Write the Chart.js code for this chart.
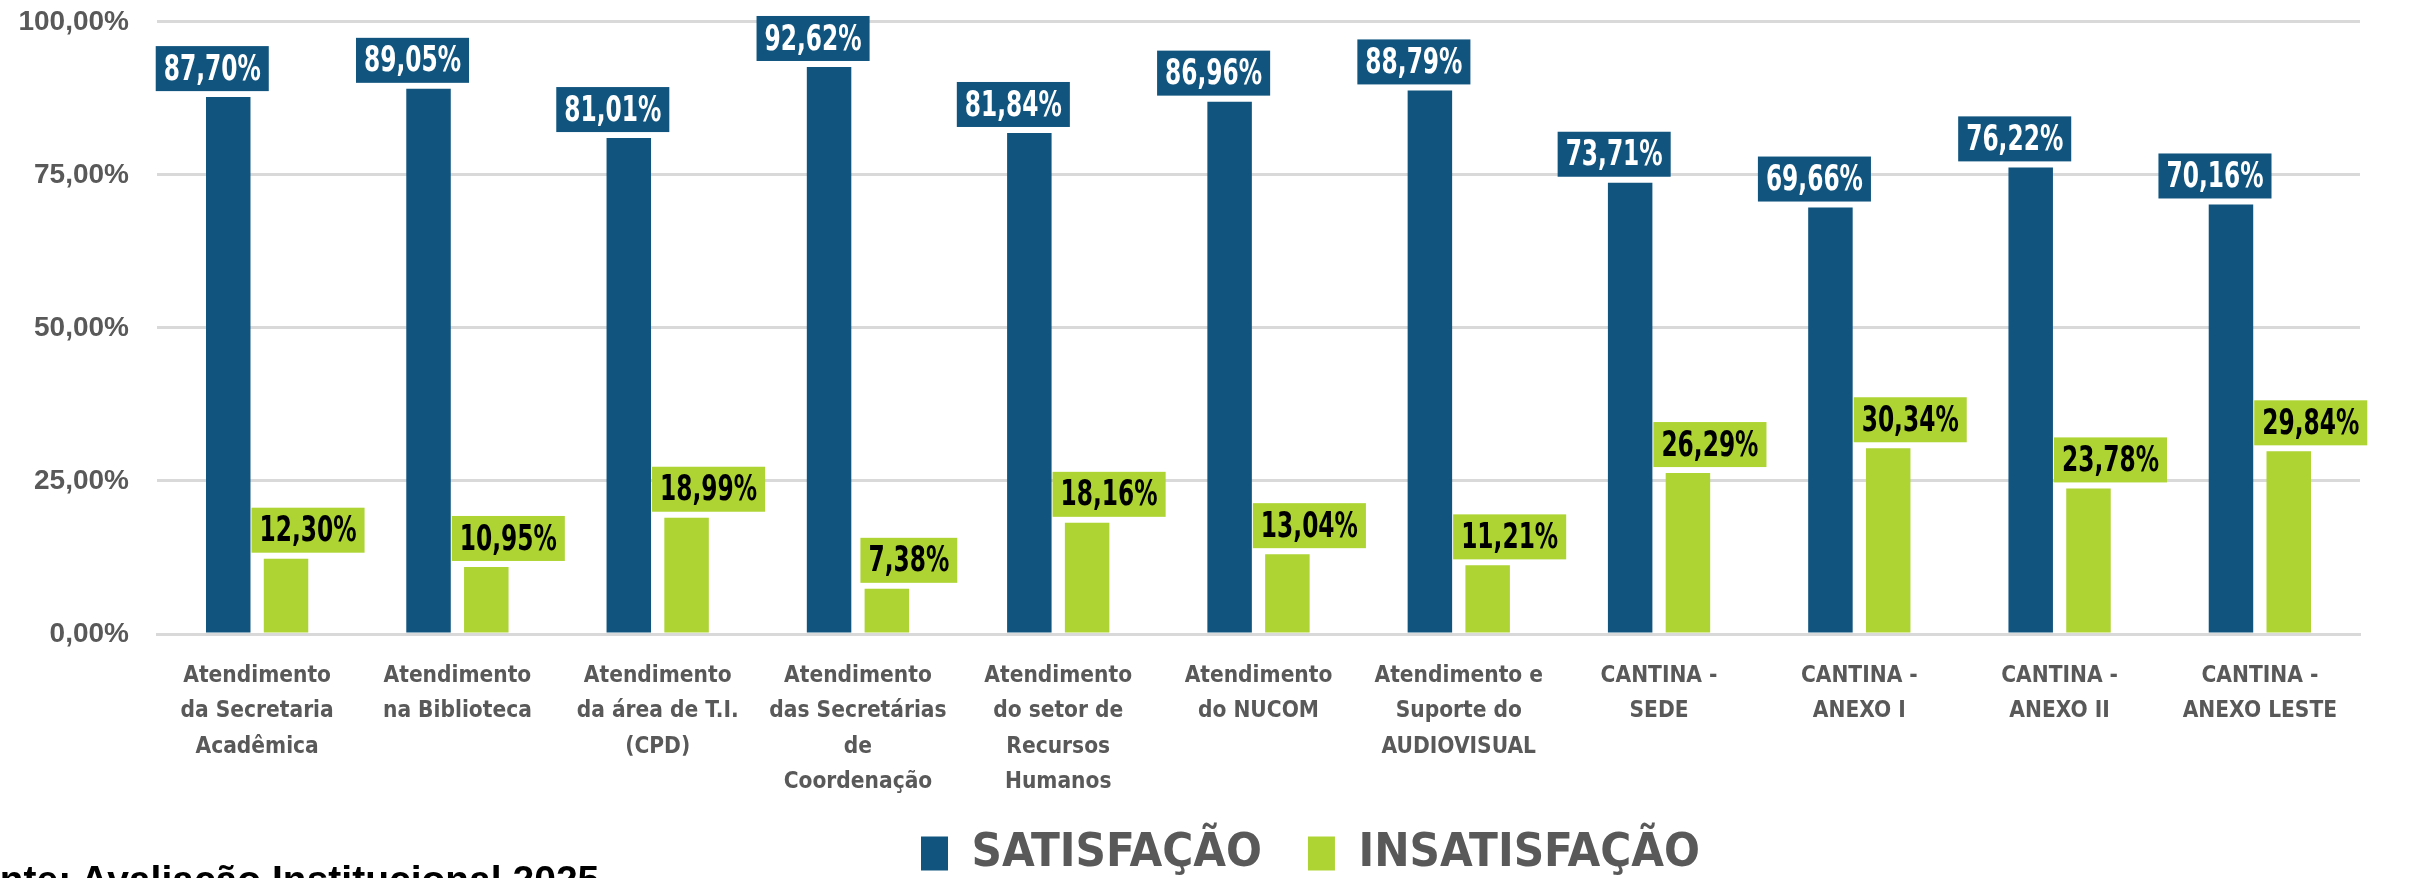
<!doctype html>
<html lang="pt-BR">
<head>
<meta charset="utf-8" />
<title>Satisfação por setor</title>
<script src="https://cdn.jsdelivr.net/npm/chart.js"></script>
<style>
  html, body { margin: 0; padding: 0; background: #fff; overflow: hidden; }
  .page { position: relative; width: 2414px; height: 878px; overflow: hidden; }
  .chart-box { position: absolute; left: 0; top: -23px; width: 2414px; height: 940px; }
  .fonte { position: absolute; left: -48px; top: 860px; font: bold 39px/39px "Liberation Sans", Arial, sans-serif; color: #000; white-space: nowrap; }
</style>
</head>
<body>
<div class="page">
  <div class="chart-box"><canvas id="chart"></canvas></div>
  <div class="fonte">Fonte: Avaliação Institucional 2025</div>
</div>
<script>
const categories = [
  ['Atendimento', 'da Secretaria', 'Acadêmica'],
  ['Atendimento', 'na Biblioteca'],
  ['Atendimento', 'da área de T.I.', '(CPD)'],
  ['Atendimento', 'das Secretárias', 'de', 'Coordenação'],
  ['Atendimento', 'do setor de', 'Recursos', 'Humanos'],
  ['Atendimento', 'do NUCOM'],
  ['Atendimento e', 'Suporte do', 'AUDIOVISUAL'],
  ['CANTINA -', 'SEDE'],
  ['CANTINA -', 'ANEXO I'],
  ['CANTINA -', 'ANEXO II'],
  ['CANTINA -', 'ANEXO LESTE'],
];
const satisfacao = [87.70, 89.05, 81.01, 92.62, 81.84, 86.96, 88.79, 73.71, 69.66, 76.22, 70.16];
const insatisfacao = [12.30, 10.95, 18.99, 7.38, 18.16, 13.04, 11.21, 26.29, 30.34, 23.78, 29.84];
const yTicks = [0, 25, 50, 75, 100];

const BLUE = '#11557f';
const GREEN = '#add433';
const GREY = '#595959';
const CONDENSED = '"DejaVu Sans Condensed", "DejaVu Sans", sans-serif';

function pct(v) {
  return v.toFixed(2).replace('.', ',') + '%';
}

// value boxes above each bar, text squeezed a bit to look like the narrow original font
const valueLabels = {
  id: 'valueLabels',
  afterDatasetsDraw(chart) {
    const ctx = chart.ctx;
    const squeeze = 0.74;
    chart.data.datasets.forEach((ds, i) => {
      const meta = chart.getDatasetMeta(i);
      meta.data.forEach((bar, j) => {
        const text = pct(ds.data[j]);
        ctx.save();
        ctx.font = 'bold 35px ' + CONDENSED;
        const w = ctx.measureText(text).width * squeeze + 16;
        const h = 45;
        const cx = bar.x + ds.labelShift;
        const bottom = bar.y - 6;
        ctx.fillStyle = ds.backgroundColor;
        ctx.fillRect(cx - w / 2, bottom - h, w, h);
        ctx.translate(cx, bottom - h / 2 + 2);
        ctx.scale(squeeze, 1);
        ctx.fillStyle = ds.labelColor;
        ctx.textAlign = 'center';
        ctx.textBaseline = 'middle';
        ctx.fillText(text, 0, 0);
        ctx.restore();
      });
    });
  },
};

// legend in the original sits a little right of the plot centre and tucks up under the labels
const legendShift = {
  id: 'legendShift',
  afterLayout(chart) {
    chart.legend.left += 52;
    chart.legend.right += 52;
    chart.legend.top -= 30;
    chart.legend.bottom -= 30;
  },
};

new Chart(document.getElementById('chart'), {
  type: 'bar',
  data: {
    labels: categories,
    datasets: [
      { label: 'SATISFAÇÃO', data: satisfacao, backgroundColor: BLUE, labelColor: '#ffffff', labelShift: -16,
        categoryPercentage: 0.577, barPercentage: 0.77 },
      { label: 'INSATISFAÇÃO', data: insatisfacao, backgroundColor: GREEN, labelColor: '#000000', labelShift: 22,
        categoryPercentage: 0.577, barPercentage: 0.77 },
    ],
  },
  options: {
    responsive: true,
    maintainAspectRatio: false,
    animation: false,
    layout: { padding: { top: 6, right: 54, left: 0, bottom: 0 } },
    plugins: {
      tooltip: { enabled: false },
      legend: {
        position: 'bottom',
        fullSize: false,
        labels: {
          color: GREY,
          font: { family: CONDENSED, size: 47, weight: 'bold' },
          boxWidth: 27,
          boxHeight: 34,
          padding: 46,
        },
      },
    },
    scales: {
      x: {
        afterFit: (scale) => { scale.height = 180; },
        grid: { display: false },
        border: { color: '#d9d9d9', width: 3 },
        ticks: {
          color: GREY,
          font: { family: CONDENSED, size: 22.5, weight: 'bold', lineHeight: 1.58 },
          maxRotation: 0,
          autoSkip: false,
          padding: 16,
        },
      },
      y: {
        min: 0,
        max: 100,
        afterBuildTicks: (scale) => { scale.ticks = yTicks.map((value) => ({ value })); },
        afterFit: (scale) => { scale.width = 157; },
        grid: { color: '#d9d9d9', lineWidth: 3, drawTicks: false },
        border: { display: false },
        ticks: {
          color: GREY,
          font: { family: '"Liberation Sans", Arial, sans-serif', size: 28, weight: 'bold' },
          padding: 28,
          callback: (v) => pct(v),
        },
      },
    },
  },
  plugins: [valueLabels, legendShift],
});
</script>
</body>
</html>
